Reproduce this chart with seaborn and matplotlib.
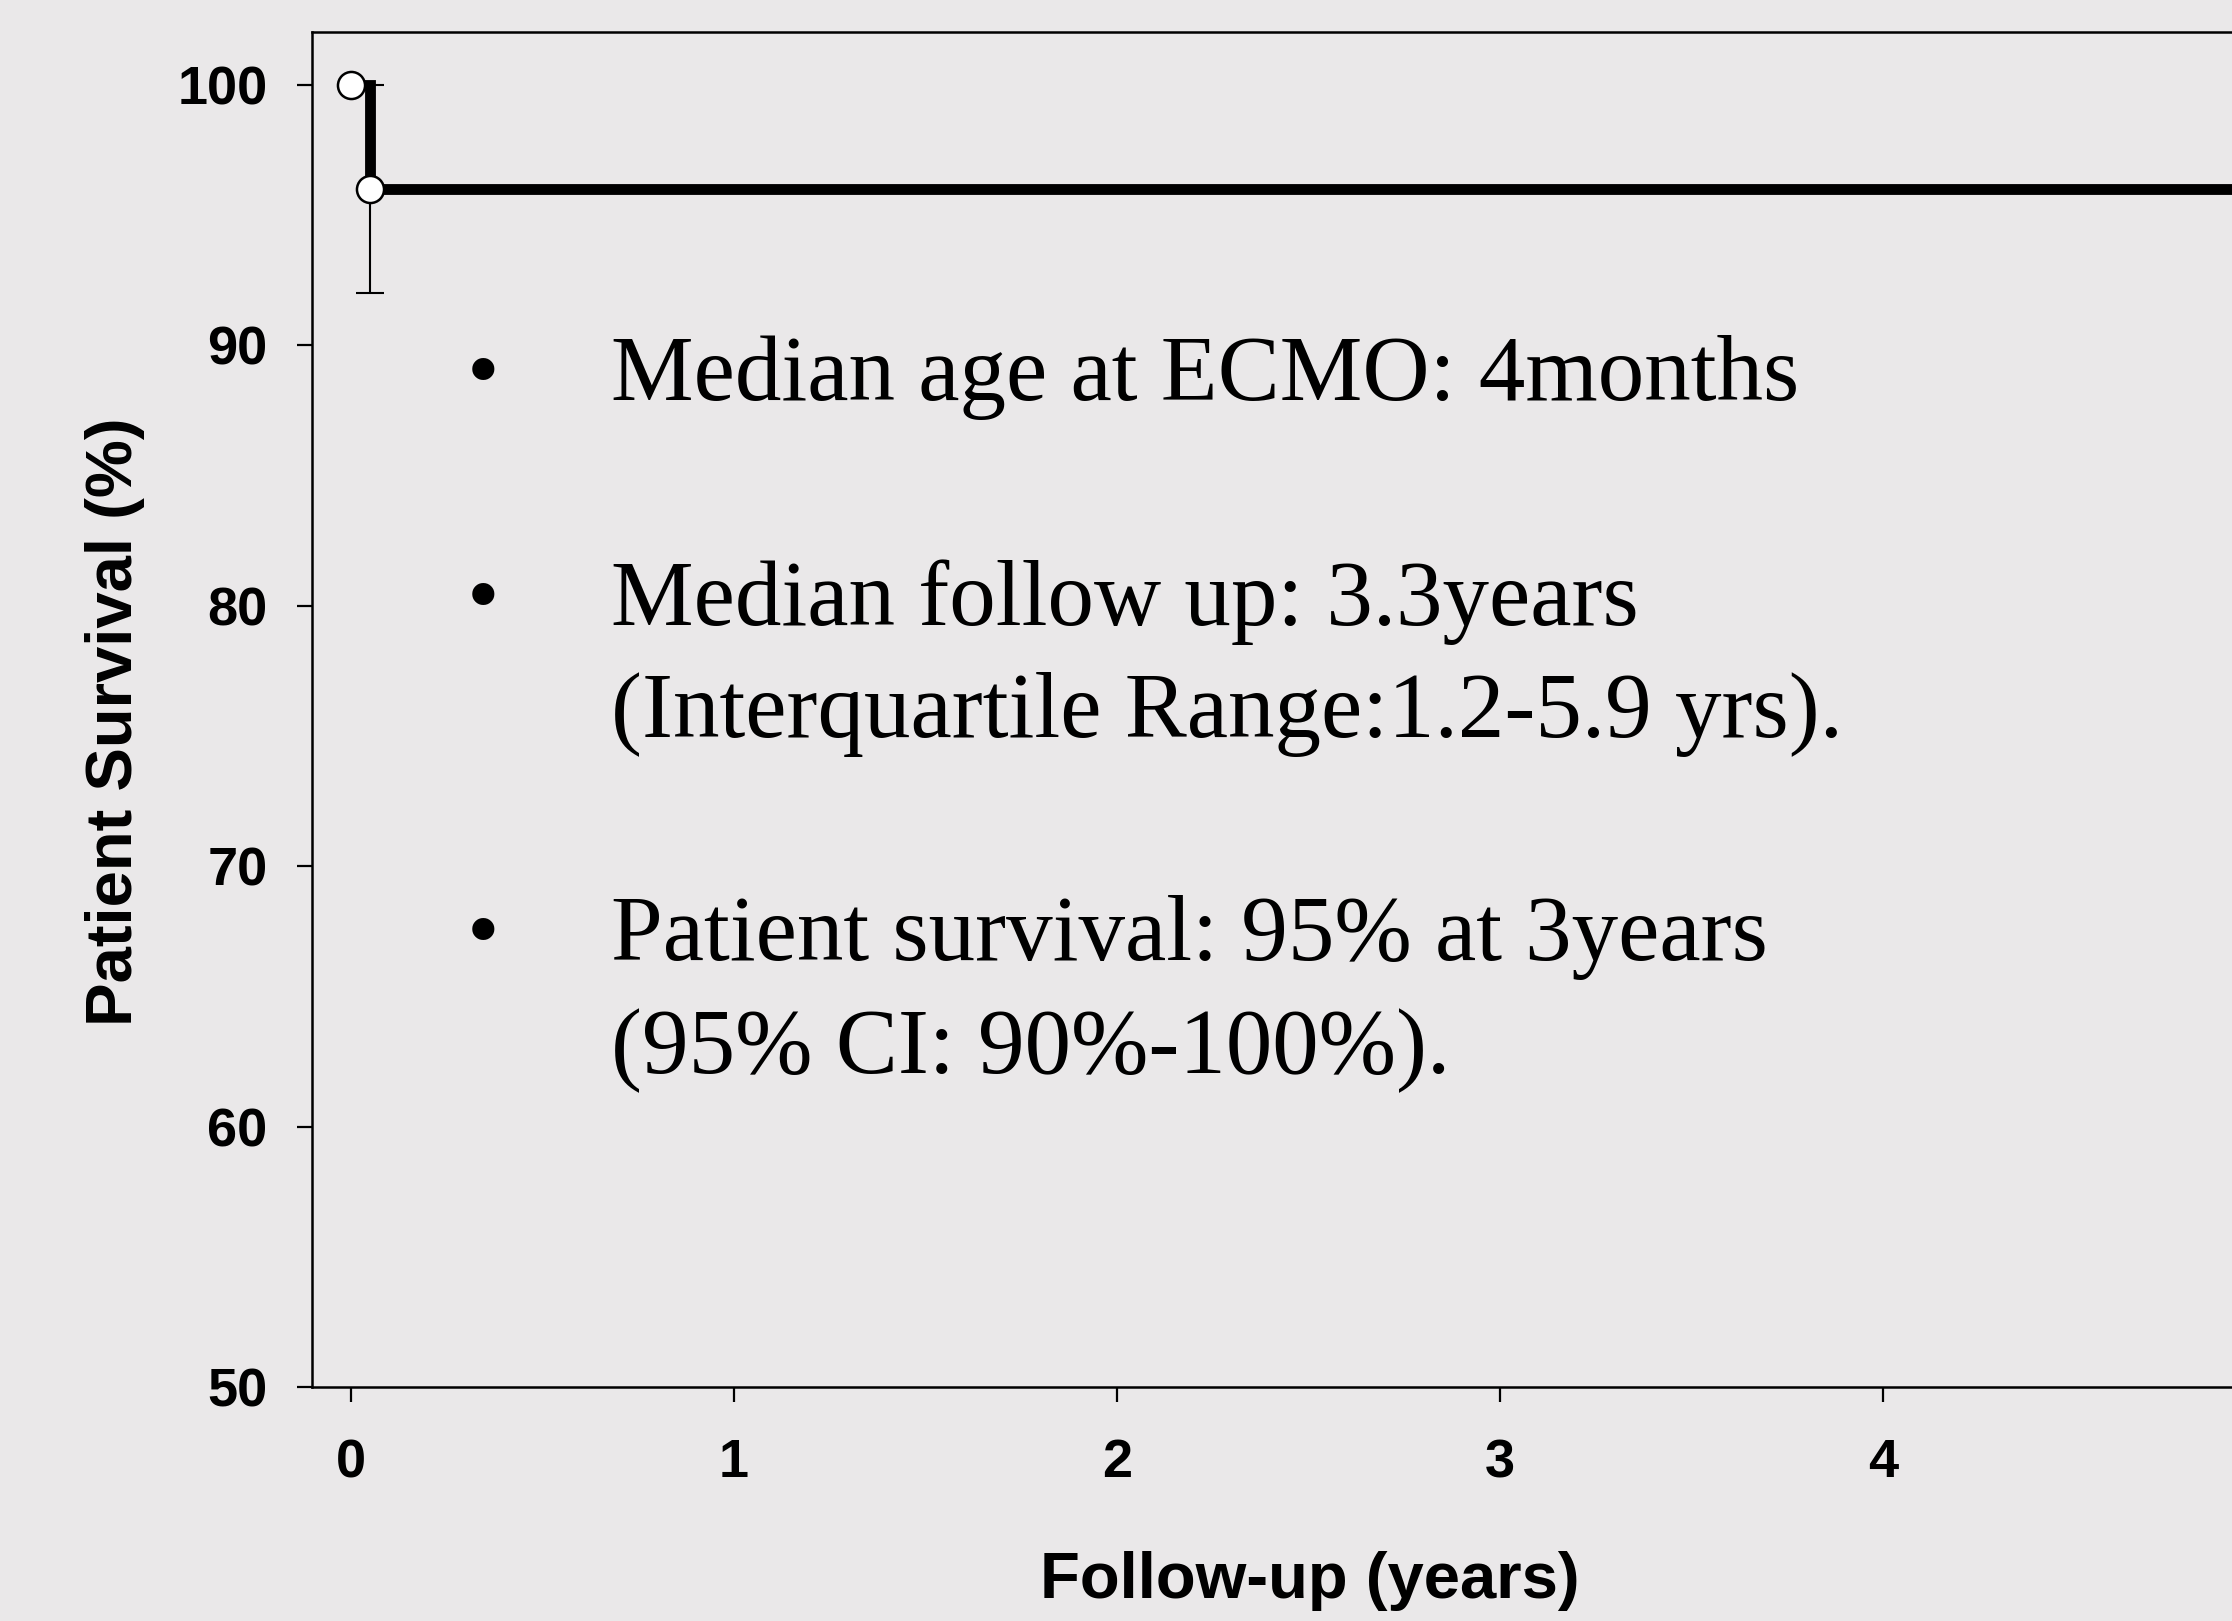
import matplotlib
matplotlib.use("Agg")
import matplotlib.pyplot as plt
import numpy as np
import pandas as pd
import seaborn as sns

# ---------------- data ----------------
km_time = [0.0, 0.05, 5.0]
km_survival = [100, 96, 96]
event_time = [0.0, 0.05]
event_survival = [100, 96]
ci_time = [0.05]
ci_estimate = [96]
ci_lower = [92]
ci_upper = [100]
x_ticks = [0, 1, 2, 3, 4]
y_ticks = [50, 60, 70, 80, 90, 100]
x_label = "Follow-up (years)"
y_label = "Patient Survival (%)"
bullet_items = [
    ["Median age at ECMO: 4months"],
    ["Median follow up: 3.3years", "(Interquartile Range:1.2-5.9 yrs)."],
    ["Patient survival: 95% at 3years", "(95% CI: 90%-100%)."],
]

# ---------------- layout ----------------
W, H, DPI = 2232, 1621, 100
BG = "#EAE8E9"

sns.set_style("ticks")
plt.rcParams["font.family"] = ["Liberation Sans", "DejaVu Sans"]
plt.rcParams["axes.labelcolor"] = "black"
plt.rcParams["text.color"] = "black"

fig = plt.figure(figsize=(W / DPI, H / DPI), dpi=DPI, facecolor=BG)
L, R, T, B = 312, 2232, 32, 1387
ax = fig.add_axes([L / W, 1 - B / H, (R - L) / W, (B - T) / H])
ax.set_facecolor(BG)

x0_px, px_per_year = 351, 383.0
y100_px, px_per_unit = 85, (1387 - 85) / 50.0
ax.set_xlim((L - x0_px) / px_per_year, (R - x0_px) / px_per_year)
ax.set_ylim(50, 100 + (y100_px - T) / px_per_unit)

df = pd.DataFrame({"time": km_time, "survival": km_survival})
sns.lineplot(data=df, x="time", y="survival", drawstyle="steps-post",
             color="black", linewidth=7.8, estimator=None, ax=ax, zorder=2,
             solid_joinstyle="miter")

err_lo = np.array(ci_estimate) - np.array(ci_lower)
err_hi = np.array(ci_upper) - np.array(ci_estimate)
ax.errorbar(ci_time, ci_estimate, yerr=[err_lo, err_hi], fmt="none",
            ecolor="black", elinewidth=1.5, capsize=10, capthick=1.5, zorder=3)

ev = pd.DataFrame({"time": event_time, "survival": event_survival})
sns.lineplot(data=ev, x="time", y="survival", estimator=None, ax=ax,
             linestyle="", marker="o", markersize=19.5,
             markerfacecolor="white", markeredgecolor="black",
             markeredgewidth=1.8, zorder=5, clip_on=False)

ax.set_xlabel("")
ax.set_ylabel("")

for side in ["left", "top", "bottom"]:
    ax.spines[side].set_visible(True)
    ax.spines[side].set_linewidth(1.8)
    ax.spines[side].set_color("black")
ax.spines["right"].set_visible(False)

ax.set_xticks(x_ticks, labels=[str(v) for v in x_ticks],
              fontsize=39, fontweight="bold", color="black")
ax.set_yticks(y_ticks, labels=[str(v) for v in y_ticks],
              fontsize=39, fontweight="bold", color="black")
ax.tick_params(axis="both", direction="out", length=11, width=1.6,
               color="black", labelcolor="black")
ax.tick_params(axis="x", pad=26)
ax.tick_params(axis="y", pad=21)
ax.tick_params(top=False, right=False)

# axis labels
ax_w, ax_h = R - L, B - T
ax.set_xlabel(x_label, fontsize=47, fontweight="bold", color="black")
ax.xaxis.label.set_va("baseline")
ax.xaxis.set_label_coords((1310 - L) / ax_w, (B - 1598) / ax_h)
ax.set_ylabel(y_label, fontsize=47, fontweight="bold", color="black")
ax.yaxis.label.set_va("baseline")
ax.yaxis.set_label_coords((132 - L) / ax_w, (B - 722) / ax_h)

# bullet text block
serif = ["Liberation Serif", "DejaVu Serif"]
fs_body = 67
block_baselines = [[400], [625, 737], [960, 1073]]
for lines, bases in zip(bullet_items, block_baselines):
    fig.text(483 / W, 1 - bases[0] / H, "\u2022", family=serif,
             fontsize=fs_body, ha="center", va="baseline", color="black")
    for txt, yb in zip(lines, bases):
        fig.text(611 / W, 1 - yb / H, txt, family=serif, fontsize=fs_body,
                 ha="left", va="baseline", color="black")

fig.savefig("out.png", dpi=DPI, facecolor=BG)
